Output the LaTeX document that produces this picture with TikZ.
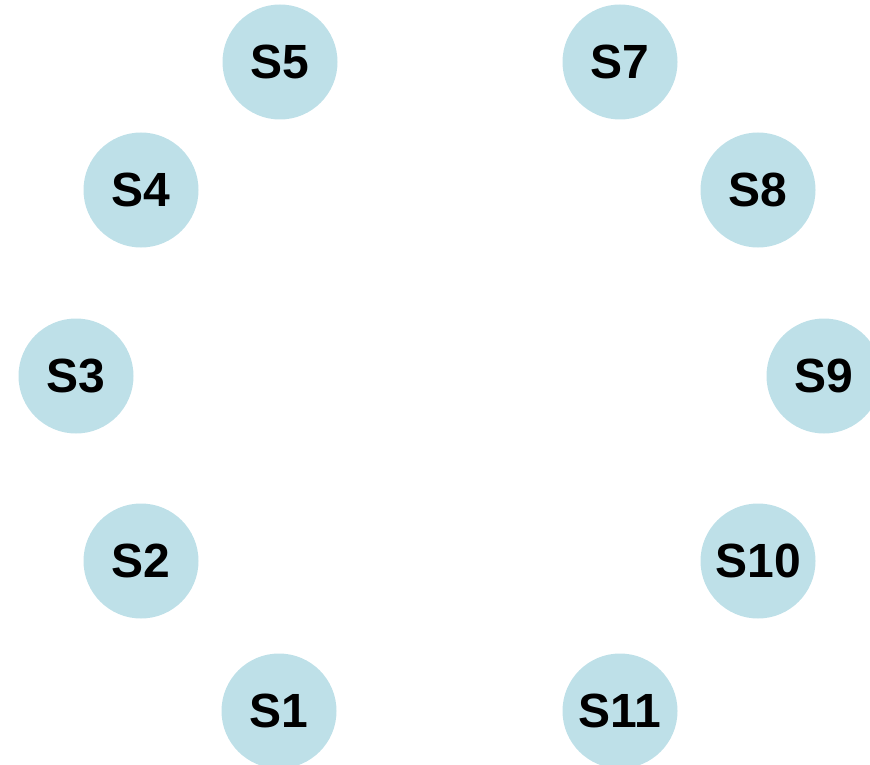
\documentclass[tikz,border=0pt]{standalone}
\usepackage{fontspec}
\setmainfont{Liberation Sans}
\definecolor{nodeblue}{RGB}{190,224,232}
\begin{document}
\begin{tikzpicture}[
    x=1pt, y=-1pt,
    every node/.style={circle, fill=nodeblue, minimum size=115pt, inner sep=0pt, font=\fontsize{48}{48}\selectfont\bfseries}
]
\useasboundingbox (0,0) rectangle (870,765);

\node (s5)  at (280,62)  {S5};
\node (s7)  at (620,62)  {S7};
\node (s4)  at (141,190) {S4};
\node (s8)  at (758,190) {S8};
\node (s3)  at (76,376)  {S3};
\node (s9)  at (824,376) {S9};
\node (s2)  at (141,561) {S2};
\node (s10) at (758,561) {S10};
\node (s1)  at (279,711) {S1};
\node (s11) at (620,711) {S11};
\end{tikzpicture}
\end{document}
